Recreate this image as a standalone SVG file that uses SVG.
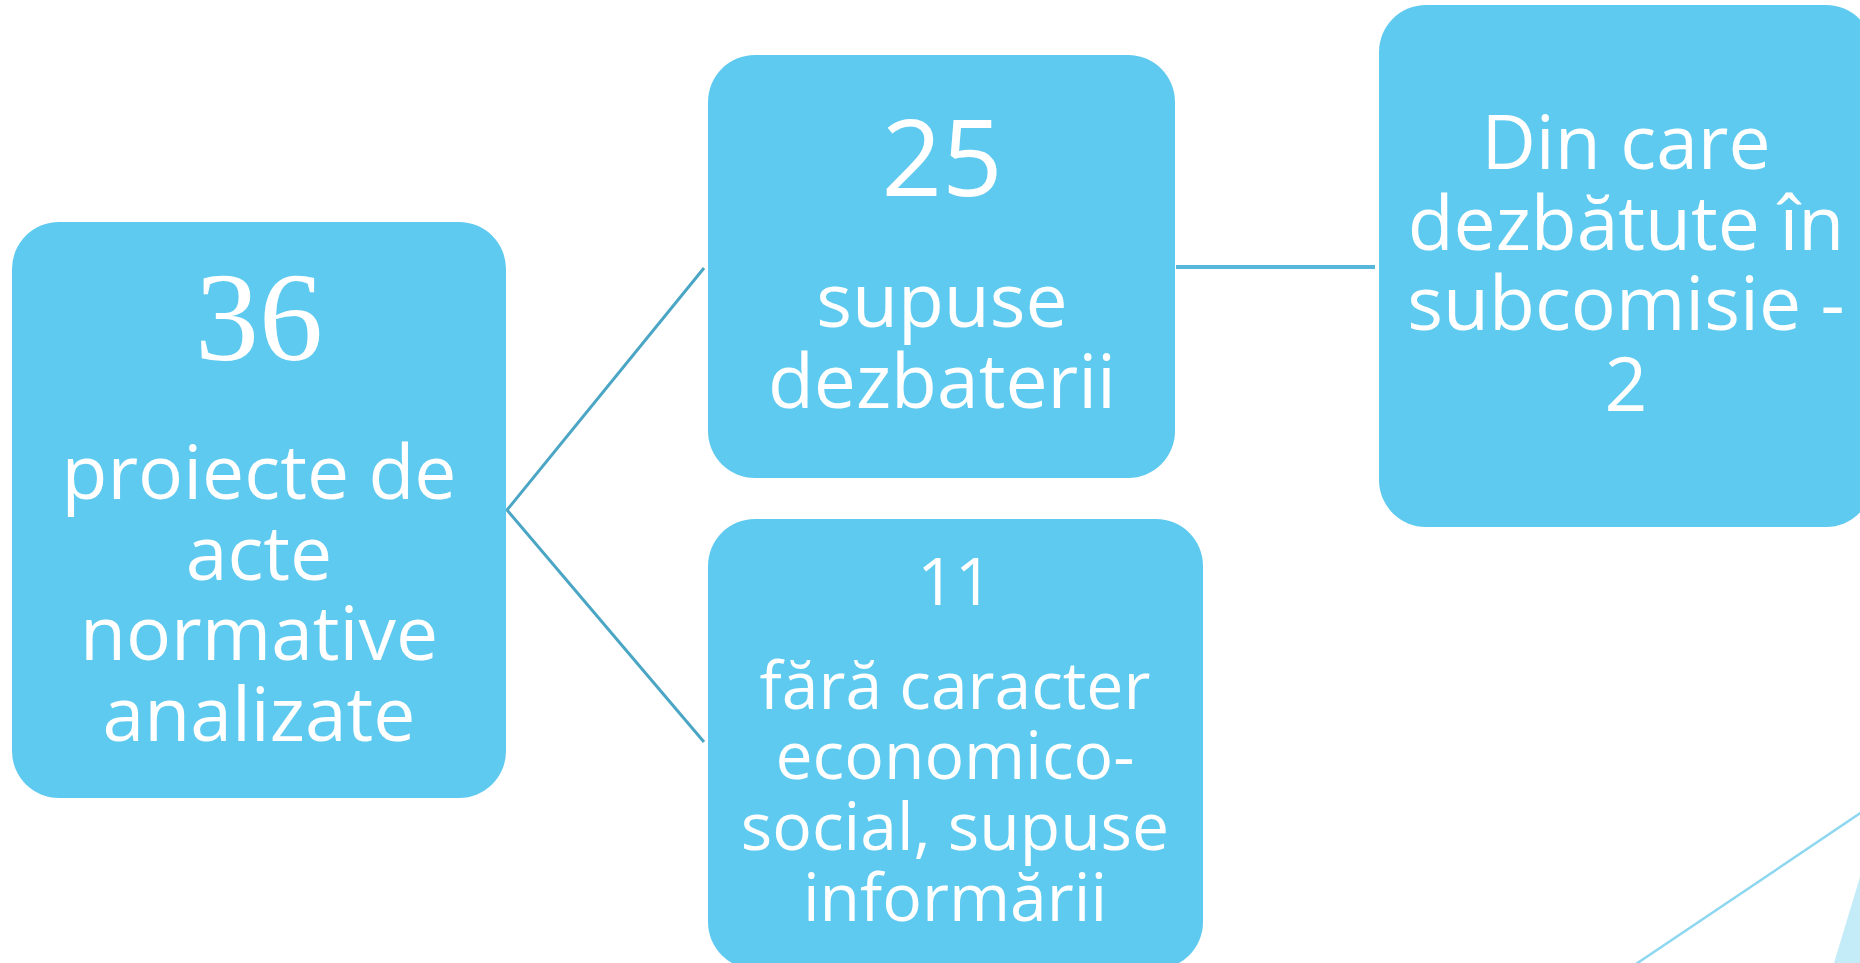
<svg xmlns="http://www.w3.org/2000/svg" width="1860" height="963" viewBox="0 0 1860 963">
<style>
.box{fill:#5FCAEF}
.t{font-family:"Open Sans","DejaVu Sans",sans-serif;fill:#FFFFFF;text-anchor:middle}
.serif{font-family:"Liberation Serif","DejaVu Serif",serif;fill:#FFFFFF;text-anchor:middle}
.conn{stroke:#4AA6C4;stroke-width:3;fill:none}
</style>
<rect width="1860" height="963" fill="#FFFFFF"/>
<g id="decor">
<polygon points="1834,963 1860,877 1860,963" fill="#C4EBF8"/>
<line x1="1636" y1="964" x2="1862" y2="812" stroke="#8DD7F0" stroke-width="2.5"/>
</g>
<g id="connectors">
<polyline class="conn" points="704,268 507,510 704,742"/>
<line x1="1176" y1="267" x2="1375" y2="267" stroke="#56B7DB" stroke-width="4"/>
</g>
<g id="node-36">
<rect class="box" x="12" y="222" width="494" height="576" rx="47" ry="47"/>
<text class="serif" x="259" y="360" font-size="128">36</text>
<text class="t" font-size="75"><tspan x="259" y="499">proiecte de</tspan><tspan x="259" y="580">acte</tspan><tspan x="259" y="660">normative</tspan><tspan x="259" y="741">analizate</tspan></text>
</g>
<g id="node-25">
<rect class="box" x="708" y="55" width="467" height="423" rx="47" ry="47"/>
<text class="t" x="942" y="196" font-size="106">25</text>
<text class="t" font-size="75"><tspan x="942" y="327">supuse</tspan><tspan x="942" y="408">dezbaterii</tspan></text>
</g>
<g id="node-11">
<rect class="box" x="708" y="519" width="495" height="450" rx="47" ry="47"/>
<text class="t" x="955" y="605" font-size="66">11</text>
<text class="t" font-size="66"><tspan x="955" y="709">fără caracter</tspan><tspan x="955" y="779">economico-</tspan><tspan x="955" y="850">social, supuse</tspan><tspan x="955" y="921">informării</tspan></text>
</g>
<g id="node-subcomisie">
<rect class="box" x="1379" y="5" width="494" height="522" rx="47" ry="47"/>
<text class="t" font-size="75"><tspan x="1626" y="169">Din care</tspan><tspan x="1626" y="250">dezbătute în</tspan><tspan x="1626" y="330">subcomisie -</tspan><tspan x="1626" y="411">2</tspan></text>
</g>
</svg>
